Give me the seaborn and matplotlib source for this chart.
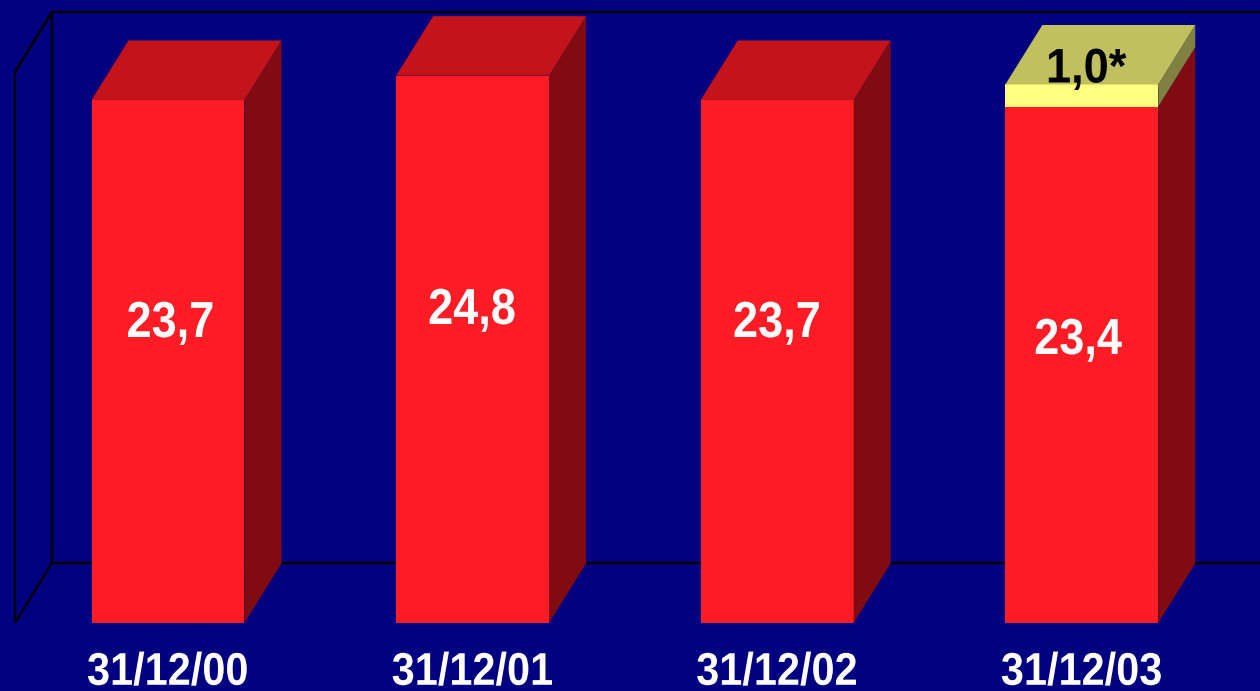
import matplotlib
matplotlib.use('Agg')
import matplotlib.pyplot as plt
import matplotlib.patheffects as pe
import pandas as pd
import seaborn as sns
from matplotlib.patches import Polygon
from matplotlib.transforms import Affine2D

# data
dates = ['31/12/00', '31/12/01', '31/12/02', '31/12/03']
base_vals = [23.7, 24.8, 23.7, 23.4]
extra_vals = [0, 0, 0, 1.0]
base_labels = ['23,7', '24,8', '23,7', '23,4']
extra_label = '1,0*'

BG = '#000080'
RED, RED_TOP, RED_SIDE = '#FF1C24', '#C2141A', '#800B10'
YEL, YEL_TOP, YEL_SIDE = '#FFFF80', '#C0C060', '#808040'


# the reference font is narrower than Liberation Sans, squeeze glyphs sideways
class Squeeze(pe.AbstractPathEffect):
    def __init__(self, sx):
        super().__init__()
        self.sx = sx

    def draw_path(self, renderer, gc, tpath, affine, rgbFace=None):
        cx = tpath.get_extents().x0 + tpath.get_extents().width / 2
        squeeze = Affine2D().translate(-cx, 0).scale(self.sx, 1).translate(cx, 0)
        renderer.draw_path(gc, tpath, squeeze + affine, rgbFace)


sns.set_theme(style='white')
plt.rcParams['font.family'] = ['Liberation Sans', 'DejaVu Sans']

df = pd.DataFrame({'date': dates, 'base': base_vals, 'extra': extra_vals})
df['total'] = df['base'] + df['extra']

fig = plt.figure(figsize=(12.6, 6.91), dpi=100, facecolor=BG)
ax = fig.add_axes([0, 68 / 691, 1, 623 / 691], facecolor=BG)

# depth of the 3d look, in data units
dx = 37 / 304.6
dy = 59.5 / 22.07

# yellow goes first so the red covers all but the top
sns.barplot(data=df, x='date', y='total', color=YEL, saturation=1, width=0.502, linewidth=0, ax=ax)
sns.barplot(data=df, x='date', y='base', color=RED, saturation=1, width=0.502, linewidth=0, ax=ax)

ax.set_xlim(-168 / 304.6, (1260 - 168) / 304.6)
ax.set_ylim(0, 623 / 22.07)

# back wall and floor
left = (15 - 168) / 304.6
top = (623 - 72) / 22.07
wall = 60 / 22.07
ax.plot([left, left, left + dx, left + dx, left], [0, top, top + wall, wall, 0], color='black', lw=1.7, zorder=0.5)
ax.plot([left + dx, 5], [wall, wall], color='black', lw=1.7, zorder=0.5)
ax.plot([left, left + dx, 5], [top, top + wall, top + wall], color='black', lw=1.7, zorder=0.5, clip_on=False)

# label anchors in picture pixels
label_px = [(170.5, 323.5), (472, 310.5), (777, 323.5), (1078, 340.5)]

# side and top faces
hw = 0.251
for i, (b, e) in enumerate(zip(base_vals, extra_vals)):
    t = b + e
    r = i + hw
    l = i - hw
    ax.add_patch(Polygon([(r, 0), (r + dx, dy), (r + dx, b + dy), (r, b)], fc=RED_SIDE, ec='none', zorder=3))
    if e > 0:
        ax.add_patch(Polygon([(r, b), (r + dx, b + dy), (r + dx, t + dy), (r, t)], fc=YEL_SIDE, ec='none', zorder=3))
    ax.add_patch(Polygon([(l, t), (r, t), (r + dx, t + dy), (l + dx, t + dy)],
                         fc=YEL_TOP if e > 0 else RED_TOP, ec='none', zorder=3))
    px, py = label_px[i]
    ax.text((px - 168) / 304.6, (623 - py) / 22.07, base_labels[i], color='white', fontsize=36.5,
            fontweight='bold', ha='center', va='center', zorder=4, path_effects=[Squeeze(0.89)])

ax.text((1086 - 168) / 304.6, (623 - 70) / 22.07, extra_label, color='black', fontsize=35, fontweight='bold',
        ha='center', va='center', zorder=4, path_effects=[Squeeze(0.93)])

ax.set_xlabel('')
ax.set_ylabel('')
ax.set_yticks([])
ax.tick_params(axis='x', length=0, pad=20, labelsize=33, labelcolor='white')
for lab in ax.get_xticklabels():
    lab.set_fontweight('bold')
    lab.set_path_effects([Squeeze(0.905)])
sns.despine(ax=ax, left=True, bottom=True)

fig.savefig('out.png', dpi=100, facecolor=BG)
